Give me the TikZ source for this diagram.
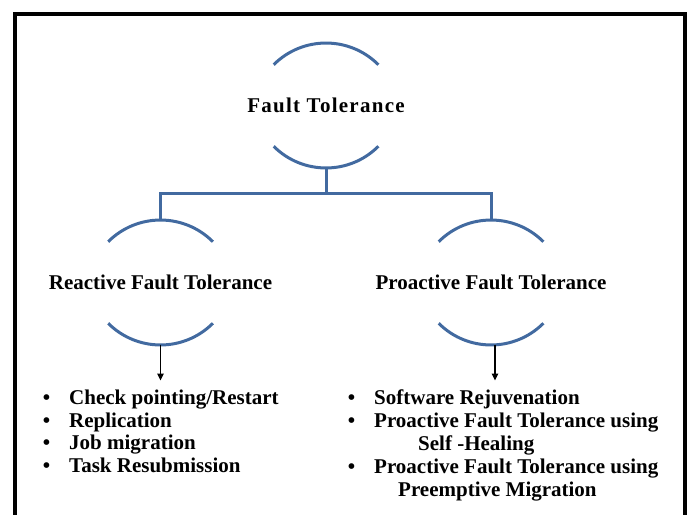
\documentclass[tikz,border=0pt]{standalone}
\usepackage{fontspec}
\setmainfont{Liberation Serif}
\newfontfamily\ftspaced[LetterSpace=6]{Liberation Serif}
\usepackage{tikz}
\usetikzlibrary{arrows.meta,calc}
\definecolor{ftblue}{RGB}{66,106,160}
\definecolor{ftink}{RGB}{0,0,0}
\tikzset{
  ftlabel/.style={
    inner sep=0pt, text=ftink, font=\fontsize{21}{25}\selectfont\bfseries
  },
  fttitle/.style={ftlabel, font=\fontsize{21}{25}\selectfont\ftspaced\bfseries},
  item/.style={ftlabel, anchor=base west},
  dot/.style={ftlabel, anchor=base},
  arcline/.style={draw=ftblue, line width=3pt},
  link/.style={draw=ftblue, line width=3pt},
  pointer/.style={-{Triangle[length=7pt,width=6.5pt]}, draw=ftink, line width=1.2pt},
  frame/.style={draw=ftink, line width=4pt, line join=miter}
}

\begin{document}
\begin{tikzpicture}[x=1pt, y=-1pt]
  \useasboundingbox (0,0) rectangle (688,514);
  \draw[frame] (15,516) -- (15,14) -- (685,14) -- (685,516);

  % the three headings
  \node[fttitle] (ft) at (326,105.5) {Fault Tolerance};
  \node[ftlabel] (rft) at (160.5,282.5) {Reactive Fault Tolerance};
  \node[ftlabel] (pft) at (491,282.5) {Proactive Fault Tolerance};

  % bracket arcs above and below each heading
  \foreach \n in {ft,rft,pft}{
    \draw[arcline] ($(\n.center)+(-52.3,-40.8)$) arc[start angle=135,end angle=45,radius=74pt];
    \draw[arcline] ($(\n.center)+(-52.3,40.8)$) arc[start angle=225,end angle=315,radius=74pt];
  }

  \coordinate (ftbot) at ($(ft.center)+(0,62.5)$);
  \coordinate (rfttop) at ($(rft.center)+(0,-62.5)$);
  \coordinate (pfttop) at ($(pft.center)+(0,-62.5)$);
  \coordinate (rftbot) at ($(rft.center)+(0,62)$);
  \coordinate (pftbot) at ($(pft.center)+(4,62)$);
  \coordinate (rlist) at ($(rftbot)+(0,36)$);
  \coordinate (plist) at ($(pftbot)+(0,36)$);

  \draw[link] (ftbot) -- ++(0,25) -| (rfttop);
  \draw[link] (ftbot) -- ++(0,25) -| (pfttop);
  \draw[pointer] (rftbot) -- (rlist);
  \draw[pointer] (pftbot) -- (plist);

  % reactive list
  \foreach \y/\txt [count=\i] in {404/{Check pointing/Restart},427/Replication,
      449.5/Job migration,472/Task Resubmission}{
    \node[dot] (rb\i) at (46.5,\y) {\textbullet};
    \node[item] (rl\i) at (69,\y) {\txt};
  }

  % proactive list
  \foreach \y [count=\i] in {404,427,473}
    \node[dot] (pb\i) at (351.5,\y) {\textbullet};
  \node[item] (pl1) at (374,404) {Software Rejuvenation};
  \node[item] (pl2) at (374,427) {Proactive Fault Tolerance using};
  \node[item] (pl3) at (418,450) {Self -Healing};
  \node[item] (pl4) at (374,473) {Proactive Fault Tolerance using};
  \node[item] (pl5) at (398,496.5) {Preemptive Migration};
\end{tikzpicture}
\end{document}
